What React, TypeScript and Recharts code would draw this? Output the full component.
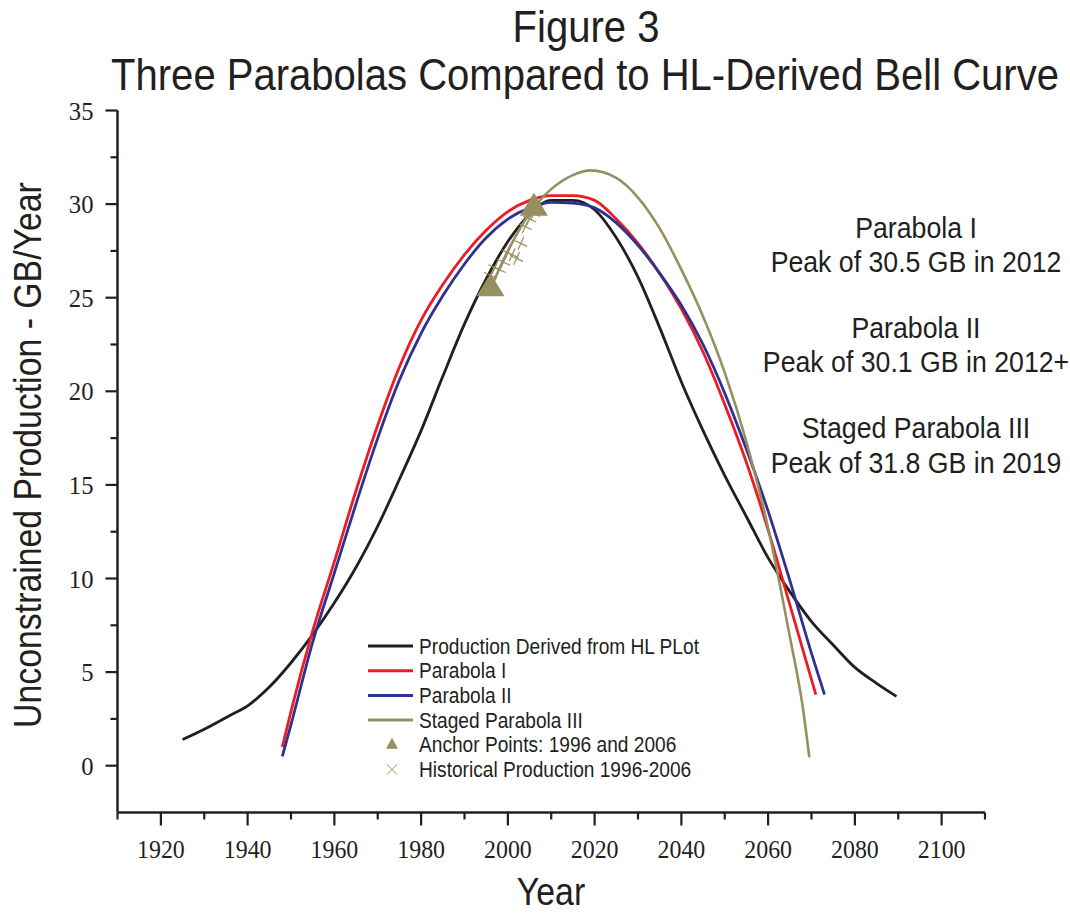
// @ts-nocheck
import React from "react";
import { ComposedChart, Line, Scatter, XAxis, YAxis, Legend } from "recharts";

// HL-derived bell curve
const hlYears = [1925, 1930, 1936, 1940, 1945, 1950, 1955, 1960, 1965, 1970, 1975, 1980, 1985, 1990, 1995, 2000, 2005, 2010, 2015, 2020, 2025, 2030, 2035, 2040, 2045, 2050, 2055, 2060, 2065, 2070, 2075, 2080, 2085, 2089.6];
const hlValues = [1.4, 1.95, 2.7, 3.2, 4.2, 5.5, 7.0, 8.7, 10.6, 12.8, 15.3, 17.9, 20.8, 23.6, 26.0, 28.0, 29.45, 30.2, 30.2, 29.7, 28.2, 26.1, 23.4, 20.5, 17.9, 15.5, 13.3, 11.1, 9.3, 7.7, 6.45, 5.25, 4.4, 3.7];

// Parabola I
const p1Years = [1948, 1950, 1955, 1960, 1965, 1970, 1975, 1980, 1985, 1990, 1995, 2000, 2005, 2010, 2015, 2020, 2025, 2030, 2035, 2040, 2045, 2050, 2055, 2060, 2065, 2071];
const p1Values = [1.0, 2.9, 7.2, 10.9, 14.7, 18.2, 21.3, 23.8, 25.7, 27.3, 28.6, 29.6, 30.2, 30.45, 30.45, 30.2, 29.2, 27.9, 26.3, 24.4, 22.1, 19.3, 16.2, 12.6, 8.6, 3.8];

// Parabola II
const p2Years = [1948, 1950, 1955, 1960, 1965, 1970, 1975, 1980, 1985, 1990, 1995, 2000, 2005, 2010, 2015, 2020, 2025, 2030, 2035, 2040, 2045, 2050, 2055, 2060, 2065, 2070, 2073];
const p2Values = [0.5, 2.2, 6.6, 10.3, 14.0, 17.5, 20.6, 23.1, 25.1, 26.8, 28.2, 29.2, 29.8, 30.1, 30.05, 29.8, 29.0, 27.8, 26.3, 24.6, 22.5, 19.9, 16.9, 13.6, 9.9, 6.0, 3.8];

// Staged Parabola III
const p3Years = [1996, 2000, 2005, 2010, 2015, 2019, 2025, 2030, 2035, 2040, 2045, 2050, 2055, 2060, 2065, 2068, 2069.5];
const p3Values = [25.5, 27.5, 29.5, 30.8, 31.55, 31.8, 31.4, 30.35, 28.7, 26.5, 24.0, 21.0, 17.3, 12.7, 6.9, 3.1, 0.45];

const anchorYears = [1996, 2006];
const anchorValues = [25.5, 29.8];

const histYears = [1996, 1997, 1998, 1999, 2000, 2001, 2002, 2003, 2004, 2005, 2006];
const histValues = [26.2, 26.6, 26.5, 26.9, 27.4, 27.3, 27.1, 27.9, 28.8, 29.2, 29.5];

const xTicks = [1910, 1920, 1930, 1940, 1950, 1960, 1970, 1980, 1990, 2000, 2010, 2020, 2030, 2040, 2050, 2060, 2070, 2080, 2090, 2100, 2110];
const yTicks = [0, 2.5, 5, 7.5, 10, 12.5, 15, 17.5, 20, 22.5, 25, 27.5, 30, 32.5, 35];

const legendLabels = [
  "Production Derived from HL PLot",
  "Parabola I",
  "Parabola II",
  "Staged Parabola III",
  "Anchor Points: 1996 and 2006",
  "Historical Production 1996-2006",
];

const notes = [
  "Parabola I",
  "Peak of 30.5 GB in 2012",
  "Parabola II",
  "Peak of 30.1 GB in 2012+",
  "Staged Parabola III",
  "Peak of 31.8 GB in 2019",
];

const toPoints = (xs, ys) => xs.map((x, i) => ({ year: x, value: ys[i] }));

const ink = "#231f20";
const red = "#ed1c24";
const blue = "#2e3192";
const olive = "#968f5f";
const sans = "'Liberation Sans', Arial, Helvetica, sans-serif";
const serif = "'Liberation Serif', 'Times New Roman', serif";
const squeeze = 0.89;

const XTick = ({ x, y, payload }) => {
  const major = payload.value % 20 === 0;
  return (
    <g>
      <line x1={x} x2={x} y1={y} y2={y + (major ? 13 : 7)} stroke={ink} strokeWidth={2.2} />
      {major && (
        <text
          transform={`translate(${x},${y + 45}) scale(0.92,1)`}
          textAnchor="middle"
          fontFamily={serif}
          fontSize={26}
          fill={ink}
        >
          {payload.value}
        </text>
      )}
    </g>
  );
};

const YTick = ({ x, y, payload }) => {
  const major = payload.value % 5 === 0;
  return (
    <g>
      <line x1={x} x2={x - (major ? 12 : 7)} y1={y} y2={y} stroke={ink} strokeWidth={2.2} />
      {major && (
        <text
          transform={`translate(${x - 24},${y}) scale(0.95,1)`}
          dy="0.35em"
          textAnchor="end"
          fontFamily={serif}
          fontSize={26}
          fill={ink}
        >
          {payload.value}
        </text>
      )}
    </g>
  );
};

const Triangle = ({ cx, cy }) => (
  <polygon points={`${cx},${cy - 15} ${cx - 14},${cy + 8} ${cx + 14},${cy + 8}`} fill={olive} />
);

const Cross = ({ cx, cy }) => (
  <g transform={`translate(${cx},${cy}) rotate(25)`} stroke={olive} strokeWidth={1.2}>
    <line x1={-7} y1={0} x2={7} y2={0} />
    <line x1={0} y1={-7} x2={0} y2={7} />
  </g>
);

const LegendBox = () => {
  const colors = [ink, red, blue, olive];
  return (
    <svg width={360} height={160}>
      {legendLabels.map((label, i) => {
        const cy = 16 + i * 24.7;
        let mark = null;
        if (i < 4) {
          mark = <line x1={8} x2={53} y1={cy} y2={cy} stroke={colors[i]} strokeWidth={3} />;
        } else if (i === 4) {
          mark = <polygon points={`32,${cy - 7} 26,${cy + 4} 38,${cy + 4}`} fill={olive} />;
        } else {
          mark = (
            <g stroke={olive} strokeWidth={1}>
              <line x1={27} y1={cy - 5} x2={37} y2={cy + 5} />
              <line x1={27} y1={cy + 5} x2={37} y2={cy - 5} />
            </g>
          );
        }
        return (
          <g key={label}>
            {mark}
            <text
              transform={`translate(59,${cy + 7.5}) scale(${squeeze},1)`}
              fontFamily={sans}
              fontSize={21.5}
              fill={ink}
            >
              {label}
            </text>
          </g>
        );
      })}
    </svg>
  );
};

const noteBaselines = [238, 272, 338, 372, 438, 473];

export default function App() {
  return (
    <div style={{ position: "absolute", left: 0, top: 0, width: 1070, height: 915, background: "#fff" }}>
      <ComposedChart width={1070} height={915} margin={{ top: 110.5, right: 85, bottom: 0, left: 0 }}>
        <XAxis
          type="number"
          dataKey="year"
          domain={[1910, 2110]}
          ticks={xTicks}
          interval={0}
          tickSize={0}
          tickMargin={0}
          tickLine={false}
          tick={<XTick />}
          axisLine={{ stroke: ink, strokeWidth: 2.5 }}
          height={102.5}
        />
        <YAxis
          type="number"
          dataKey="value"
          domain={[-2.5, 35]}
          ticks={yTicks}
          interval={0}
          tickSize={0}
          tickMargin={0}
          tickLine={false}
          tick={<YTick />}
          axisLine={{ stroke: ink, strokeWidth: 2.5 }}
          width={117.5}
        />
        <Legend
          layout="vertical"
          align="center"
          verticalAlign="middle"
          content={<LegendBox />}
          wrapperStyle={{ left: 360, top: 630, width: 360, height: 160 }}
        />
        <Line data={toPoints(hlYears, hlValues)} dataKey="value" type="monotone" stroke={ink} strokeWidth={2.8} dot={false} isAnimationActive={false} />
        <Line data={toPoints(p1Years, p1Values)} dataKey="value" type="monotone" stroke={red} strokeWidth={2.8} dot={false} isAnimationActive={false} />
        <Line data={toPoints(p2Years, p2Values)} dataKey="value" type="monotone" stroke={blue} strokeWidth={2.8} dot={false} isAnimationActive={false} />
        <Line data={toPoints(p3Years, p3Values)} dataKey="value" type="monotone" stroke={olive} strokeWidth={2.6} dot={false} isAnimationActive={false} />
        <Scatter data={toPoints(histYears, histValues)} dataKey="value" shape={<Cross />} isAnimationActive={false} />
        <Scatter data={toPoints(anchorYears, anchorValues)} dataKey="value" shape={<Triangle />} isAnimationActive={false} />
      </ComposedChart>
      <svg width={1070} height={915} style={{ position: "absolute", left: 0, top: 0, pointerEvents: "none" }}>
        <g fontFamily={sans} fill={ink} textAnchor="middle">
          <text transform={`translate(586,42) scale(${squeeze},1)`} fontSize={45}>Figure 3</text>
          <text transform={`translate(585,90) scale(${squeeze},1)`} fontSize={45}>
            Three Parabolas Compared to HL-Derived Bell Curve
          </text>
          <text transform={`translate(551,905) scale(${squeeze},1)`} fontSize={38}>Year</text>
          <text transform={`translate(41,455) rotate(-90) scale(${squeeze},1)`} fontSize={38}>
            Unconstrained Production - GB/Year
          </text>
          {notes.map((n, i) => (
            <text key={n} transform={`translate(916,${noteBaselines[i]}) scale(${squeeze},1)`} fontSize={30}>
              {n}
            </text>
          ))}
        </g>
      </svg>
    </div>
  );
}
